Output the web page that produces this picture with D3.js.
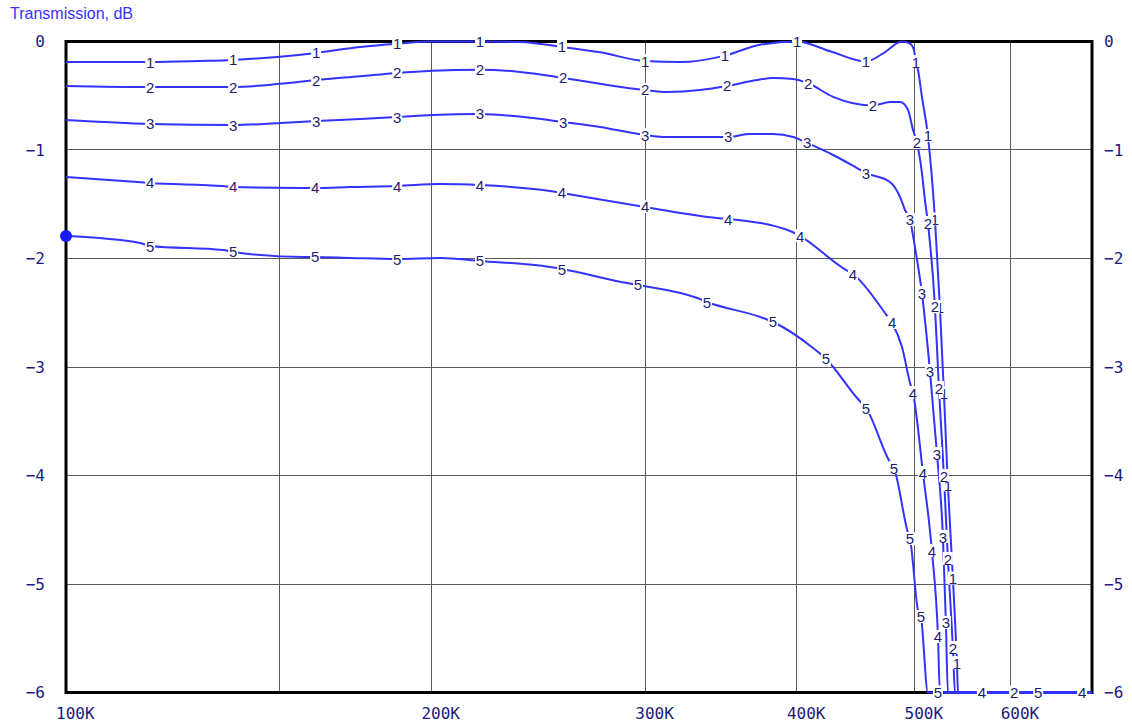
<!DOCTYPE html>
<html>
<head>
<meta charset="utf-8">
<script src="https://cdn.jsdelivr.net/npm/d3@7"></script>
<style>
  html, body { margin: 0; padding: 0; background: #fff; }
  svg { display: block; }
</style>
</head>
<body>
<svg id="chart" width="1132" height="727"></svg>
<script>
// Frequency (kHz) and transmission (dB) for each of the five response curves
const freq1 = [100, 117.3, 128.9, 137.3, 150.1, 160.7, 174.7, 187.4, 200.3, 219.3, 236.6, 256.2, 275.4, 299.9, 320.5, 349.0, 372.9, 400.1, 426.0, 456.0, 471.0, 488.2, 495.7, 499.4, 501.3, 503.2, 507.0, 512.8, 519.7, 524.6, 528.6, 532.6, 537.7, 541.8, 542.9, 700];
const db1   = [-0.19, -0.19, -0.18, -0.17, -0.14, -0.105, -0.05, -0.02, 0, 0, -0.005, -0.05, -0.10, -0.18, -0.19, -0.13, -0.03, 0, -0.09, -0.185, -0.11, 0, -0.02, -0.08, -0.19, -0.26, -0.51, -0.87, -1.64, -2.45, -3.24, -4.09, -4.95, -5.73, -6, -6];

const freq2 = [100, 117.3, 137.3, 150.1, 160.7, 174.7, 187.4, 200.3, 219.3, 236.6, 256.7, 275.4, 299.9, 312.7, 332.9, 350.4, 370.8, 382.2, 397.1, 408.6, 428.4, 462.0, 477.2, 486.4, 493.8, 498.5, 502.3, 507.0, 509.9, 512.8, 519.7, 523.6, 528.6, 532.6, 537.7, 539.8, 603.9, 700];
const db2   = [-0.41, -0.42, -0.42, -0.39, -0.355, -0.32, -0.29, -0.27, -0.26, -0.28, -0.336, -0.39, -0.447, -0.465, -0.447, -0.41, -0.355, -0.336, -0.345, -0.385, -0.51, -0.59, -0.558, -0.558, -0.63, -0.816, -0.935, -1.21, -1.46, -1.673, -2.447, -3.194, -4.005, -4.77, -5.59, -6, -6, -6];

const freq3 = [100, 117.3, 137.3, 150.1, 160.7, 174.7, 187.4, 200.3, 219.3, 242.5, 256.7, 275.4, 299.9, 312.7, 332.9, 351.1, 365.9, 382.2, 397.1, 407.8, 428.4, 448.3, 456.0, 477.2, 486.4, 491.0, 495.7, 500.3, 507.0, 514.8, 521.7, 527.6, 530.6, 532.6, 700];
const db3   = [-0.724, -0.76, -0.77, -0.751, -0.733, -0.714, -0.696, -0.677, -0.668, -0.705, -0.742, -0.788, -0.862, -0.88, -0.88, -0.88, -0.853, -0.853, -0.88, -0.935, -1.046, -1.166, -1.212, -1.295, -1.433, -1.553, -1.645, -1.894, -2.318, -3.037, -3.802, -4.567, -5.359, -6, -6];

const freq4 = [100, 114.6, 117.3, 134.7, 137.3, 155.9, 160.4, 171.4, 187.4, 203.3, 219.3, 250.4, 256.2, 293.1, 299.9, 343.8, 351.1, 394.8, 402.4, 436.5, 444.9, 472.7, 479.1, 488.2, 495.7, 498.5, 508.0, 516.7, 522.7, 524.6, 568.1, 687, 700];
const db4   = [-1.249, -1.295, -1.304, -1.332, -1.341, -1.35, -1.35, -1.341, -1.332, -1.313, -1.323, -1.378, -1.396, -1.507, -1.525, -1.627, -1.636, -1.747, -1.793, -2.088, -2.143, -2.502, -2.594, -2.816, -3.147, -3.24, -3.977, -4.696, -5.488, -6, -6, -6, -6];

const freq5 = [100, 115.1, 117.3, 134.7, 137.3, 156.8, 160.4, 171.4, 187.4, 203.3, 219.3, 250.4, 256.2, 289.8, 295.9, 331.1, 337.3, 375.0, 382.2, 412.4, 422.7, 448.3, 456.0, 477.2, 480.8, 493.8, 495.7, 503.2, 506.1, 512.8, 522.7, 632.1, 700];
const db5   = [-1.793, -1.857, -1.885, -1.922, -1.94, -1.986, -1.986, -1.995, -2.005, -1.995, -2.023, -2.078, -2.097, -2.226, -2.244, -2.364, -2.401, -2.548, -2.585, -2.825, -2.926, -3.286, -3.378, -3.876, -3.931, -4.53, -4.585, -5.24, -5.304, -6, -6, -6, -6];

// Samples (kHz) at which each curve carries its number
const marks1 = [117.3, 137.3, 160.7, 187.4, 219.3, 256.2, 299.9, 349.0, 400.1, 456.0, 501.3, 512.8, 519.7, 524.6, 528.6, 532.6, 537.7, 541.8];
const marks2 = [117.3, 137.3, 160.7, 187.4, 219.3, 256.7, 299.9, 350.4, 408.6, 462.0, 502.3, 512.8, 519.7, 523.6, 528.6, 532.6, 537.7, 603.9];
const marks3 = [117.3, 137.3, 160.7, 187.4, 219.3, 256.7, 299.9, 351.1, 407.8, 456.0, 495.7, 507.0, 514.8, 521.7, 527.6, 530.6];
const marks4 = [117.3, 137.3, 160.4, 187.4, 219.3, 256.2, 299.9, 351.1, 402.4, 444.9, 479.1, 498.5, 508.0, 516.7, 522.7, 568.1, 687];
const marks5 = [117.3, 137.3, 160.4, 187.4, 219.3, 256.2, 295.9, 337.3, 382.2, 422.7, 456.0, 480.8, 495.7, 506.1, 522.7, 632.1];

const seriesNames = ["1", "2", "3", "4", "5"];
const seriesFreqs = [freq1, freq2, freq3, freq4, freq5];
const seriesDb    = [db1, db2, db3, db4, db5];
const seriesMarks = [marks1, marks2, marks3, marks4, marks5];

const xTickValues = [100, 200, 300, 400, 500, 600];      // labelled frequencies, kHz
const xGridValues = [150, 200, 300, 400, 500, 600];      // vertical grid lines, kHz
const yTickValues = [0, -1, -2, -3, -4, -5, -6];         // dB
const yTitle = "Transmission, dB";

// ---- layout ----
const svg = d3.select("#chart");
const plotLeft = 66, plotRight = 1092, plotTop = 41.5, plotBottom = 692.5;

const x = d3.scaleLog().domain([100, 700]).range([plotLeft, plotRight]);
const y = d3.scaleLinear().domain([0, -6]).range([plotTop, plotBottom]);
const crisp = v => Math.round(v - 0.5) + 0.5;

const lineColor = "#3333ff";
const labelColor = "#1c1c70";
const tickColor = "#1a1a80";

// title
svg.append("text")
  .attr("x", 10).attr("y", 19)
  .attr("font-family", "Liberation Sans, Arial, sans-serif")
  .attr("font-size", 16)
  .attr("fill", "#3333ff")
  .text(yTitle);

// grid
const grid = svg.append("g").attr("stroke", "#5a5a5a").attr("stroke-width", 1);
grid.selectAll("line.v").data(xGridValues).join("line")
  .attr("class", "v")
  .attr("x1", d => crisp(x(d))).attr("x2", d => crisp(x(d)))
  .attr("y1", plotTop).attr("y2", plotBottom);
grid.selectAll("line.h").data(yTickValues.slice(1, -1)).join("line")
  .attr("class", "h")
  .attr("y1", d => crisp(y(d))).attr("y2", d => crisp(y(d)))
  .attr("x1", plotLeft).attr("x2", plotRight);

// frame
svg.append("rect")
  .attr("x", plotLeft).attr("y", plotTop)
  .attr("width", plotRight - plotLeft).attr("height", plotBottom - plotTop)
  .attr("fill", "none").attr("stroke", "#000").attr("stroke-width", 3);

// axis labels
const tickFont = "DejaVu Sans Mono, Liberation Mono, monospace";
svg.append("g").selectAll("text").data(yTickValues).join("text")
  .attr("x", 45).attr("y", d => y(d))
  .attr("text-anchor", "end").attr("dominant-baseline", "central")
  .attr("font-family", tickFont).attr("font-size", 16).attr("fill", tickColor)
  .text(d => d === 0 ? "0" : "\u2212" + Math.abs(d));
svg.append("g").selectAll("text").data(yTickValues).join("text")
  .attr("x", 1104).attr("y", d => y(d))
  .attr("text-anchor", "start").attr("dominant-baseline", "central")
  .attr("font-family", tickFont).attr("font-size", 16).attr("fill", tickColor)
  .text(d => d === 0 ? "0" : "\u2212" + Math.abs(d));
svg.append("g").selectAll("text").data(xTickValues).join("text")
  .attr("x", d => x(d) - 10).attr("y", 719)
  .attr("text-anchor", "start")
  .attr("font-family", tickFont).attr("font-size", 16).attr("fill", tickColor)
  .text(d => d + "K");

// curves
svg.append("clipPath").attr("id", "plot-clip")
  .append("rect").attr("x", plotLeft - 2).attr("y", plotTop - 2)
  .attr("width", plotRight - plotLeft + 4).attr("height", plotBottom - plotTop + 4);

const line = d3.line()
  .x(d => x(d[0])).y(d => y(d[1]))
  .curve(d3.curveMonotoneX);

const curves = svg.append("g").attr("clip-path", "url(#plot-clip)");
seriesNames.forEach((name, i) => {
  const pts = seriesFreqs[i].map((f, j) => [f, seriesDb[i][j]]);
  curves.append("path")
    .datum(pts)
    .attr("d", line)
    .attr("fill", "none")
    .attr("stroke", lineColor)
    .attr("stroke-width", 2)
    .attr("stroke-linejoin", "round");
});

// curve numbers, set on their marked samples
const labels = svg.append("g");
seriesNames.forEach((name, i) => {
  seriesMarks[i].forEach(f => {
    const j = seriesFreqs[i].findIndex(v => Math.abs(v - f) < 1e-6);
    if (j < 0) return;
    const g = labels.append("g")
      .attr("transform", `translate(${x(f)},${y(seriesDb[i][j])})`);
    g.append("rect").attr("x", -5).attr("y", -7).attr("width", 10).attr("height", 13).attr("fill", "#fff");
    g.append("text")
      .attr("text-anchor", "middle").attr("dominant-baseline", "central")
      .attr("font-family", "Liberation Sans, Arial, sans-serif")
      .attr("font-size", 15).attr("fill", labelColor)
      .text(name);
  });
});

// marker at the start of curve 5
svg.append("circle")
  .attr("cx", x(freq5[0])).attr("cy", y(db5[0]))
  .attr("r", 6).attr("fill", "#1a1aff");
</script>
</body>
</html>
